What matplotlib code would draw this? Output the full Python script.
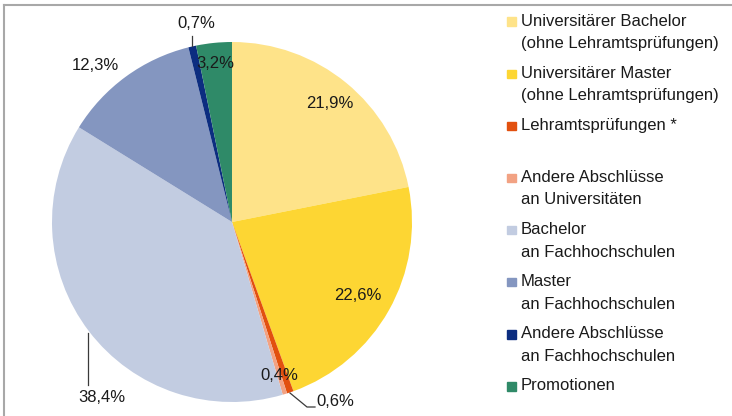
import numpy as np
import matplotlib.pyplot as plt
from matplotlib.patches import Rectangle
from matplotlib.lines import Line2D

plt.rcParams['font.family'] = ['Liberation Sans Narrow', 'Liberation Sans', 'DejaVu Sans']

labels = ['Universitärer Bachelor\n(ohne Lehramtsprüfungen)',
          'Universitärer Master\n(ohne Lehramtsprüfungen)',
          'Lehramtsprüfungen *',
          'Andere Abschlüsse\nan Universitäten',
          'Bachelor\nan Fachhochschulen',
          'Master\nan Fachhochschulen',
          'Andere Abschlüsse\nan Fachhochschulen',
          'Promotionen']
shares = [21.9, 22.6, 0.6, 0.4, 38.4, 12.3, 0.7, 3.2]
value_text = ['21,9%', '22,6%', '0,6%', '0,4%', '38,4%', '12,3%', '0,7%', '3,2%']
colors = ['#FEE389', '#FDD633', '#E2500F', '#F2A283',
          '#C2CCE1', '#8496C0', '#0C2D80', '#2F8A68']

W, H = 732, 416
fig = plt.figure(figsize=(W / 100, H / 100), dpi=100)

# pie centre (232, 222) px, radius 180 px
cx, cy, r = 232, 222, 180
ax = fig.add_axes([(cx - r) / W, (H - cy - r) / H, 2 * r / W, 2 * r / H])
ax.axis('off')
ax.pie(shares, colors=colors, startangle=90, counterclock=False, radius=1,
       center=(0, 0), frame=False, wedgeprops=dict(linewidth=0))
ax.set_xlim(-1, 1)
ax.set_ylim(-1, 1)
ax.set_aspect('auto')


def px(x, y):
    return (x - cx) / r, (cy - y) / r


# label positions in pixels of the reference
label_pos = [(330, 103), (358, 295), (335, 401), (279, 376),
             (102, 397), (95, 66), (196, 24), (215, 63)]
fs = 12
for t, (x, y) in zip(value_text, label_pos):
    ax.text(*px(x, y), t, ha='center', va='center', fontsize=fs, color='#1a1a1a')

lc = '#3a3a3a'
# leader lines
for pts in [[(88, 333), (88, 385)],
            [(290, 393), (307, 407), (315, 407)],
            [(192, 36), (192, 46)]]:
    xs, ys = zip(*[px(*p) for p in pts])
    ax.plot(xs, ys, color=lc, lw=0.9, clip_on=False)

# legend
sq = 8.5
for i, (lab, col) in enumerate(zip(labels, colors)):
    yc = 21.7 + 52.1 * i
    fig.patches.append(Rectangle((507 / W, (H - yc - sq / 2) / H), sq / W, sq / H,
                                 transform=fig.transFigure, color=col))
    fig.text(521 / W, (H - yc + 8) / H, lab, ha='left', va='top', fontsize=fs,
             color='#1a1a1a', linespacing=1.62)

# frame lines
fig.add_artist(Line2D([3.5 / W, 3.5 / W], [0, (H - 5) / H], color='#a8a8a8', lw=1.5))
fig.add_artist(Line2D([3.5 / W, 1], [(H - 5) / H, (H - 5) / H], color='#a8a8a8', lw=1.5))

fig.savefig('out.png', dpi=100)
